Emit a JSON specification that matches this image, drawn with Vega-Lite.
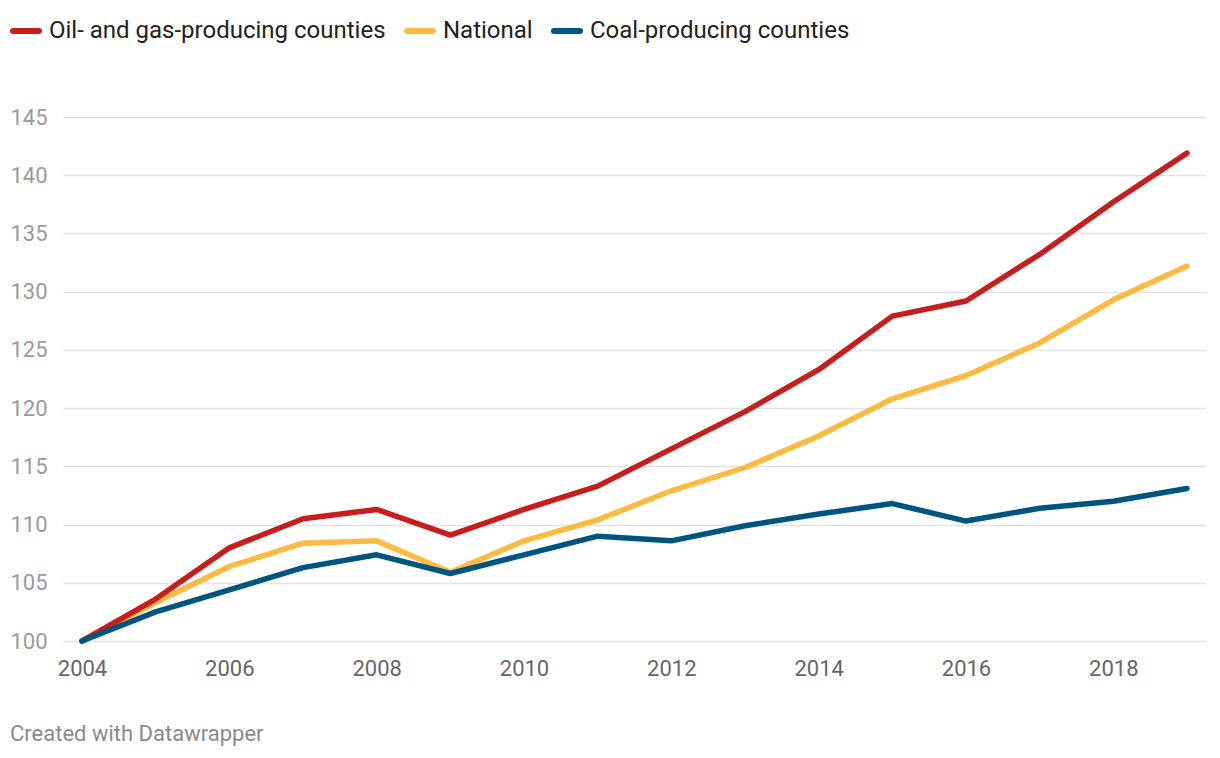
{
  "$schema": "https://vega.github.io/schema/vega-lite/v6.json",
  "width": 1143,
  "height": 524,
  "autosize": {"type": "none"},
  "padding": {"left": 63, "top": 117, "right": 14, "bottom": 117},
  "background": "white",
  "config": {
    "view": {"stroke": null},
    "font": "Roboto"
  },
  "title": {
    "text": "Created with Datawrapper",
    "orient": "bottom",
    "anchor": "start",
    "frame": "bounds",
    "fontSize": 22,
    "font": "Roboto",
    "fontWeight": "normal",
    "color": "#8a8a8a",
    "offset": 45
  },
  "datasets": {
    "series": [
      {"year": 2004, "series": "National", "value": 100},
      {"year": 2005, "series": "National", "value": 103.3},
      {"year": 2006, "series": "National", "value": 106.4},
      {"year": 2007, "series": "National", "value": 108.4},
      {"year": 2008, "series": "National", "value": 108.6},
      {"year": 2009, "series": "National", "value": 105.9},
      {"year": 2010, "series": "National", "value": 108.6},
      {"year": 2011, "series": "National", "value": 110.4},
      {"year": 2012, "series": "National", "value": 112.9},
      {"year": 2013, "series": "National", "value": 114.9},
      {"year": 2014, "series": "National", "value": 117.6},
      {"year": 2015, "series": "National", "value": 120.8},
      {"year": 2016, "series": "National", "value": 122.8},
      {"year": 2017, "series": "National", "value": 125.6},
      {"year": 2018, "series": "National", "value": 129.3},
      {"year": 2019, "series": "National", "value": 132.2},
      {"year": 2004, "series": "Oil- and gas-producing counties", "value": 100},
      {"year": 2005, "series": "Oil- and gas-producing counties", "value": 103.6},
      {"year": 2006, "series": "Oil- and gas-producing counties", "value": 108.0},
      {"year": 2007, "series": "Oil- and gas-producing counties", "value": 110.5},
      {"year": 2008, "series": "Oil- and gas-producing counties", "value": 111.3},
      {"year": 2009, "series": "Oil- and gas-producing counties", "value": 109.1},
      {"year": 2010, "series": "Oil- and gas-producing counties", "value": 111.3},
      {"year": 2011, "series": "Oil- and gas-producing counties", "value": 113.3},
      {"year": 2012, "series": "Oil- and gas-producing counties", "value": 116.5},
      {"year": 2013, "series": "Oil- and gas-producing counties", "value": 119.7},
      {"year": 2014, "series": "Oil- and gas-producing counties", "value": 123.3},
      {"year": 2015, "series": "Oil- and gas-producing counties", "value": 127.9},
      {"year": 2016, "series": "Oil- and gas-producing counties", "value": 129.2},
      {"year": 2017, "series": "Oil- and gas-producing counties", "value": 133.2},
      {"year": 2018, "series": "Oil- and gas-producing counties", "value": 137.7},
      {"year": 2019, "series": "Oil- and gas-producing counties", "value": 141.9},
      {"year": 2004, "series": "Coal-producing counties", "value": 100},
      {"year": 2005, "series": "Coal-producing counties", "value": 102.5},
      {"year": 2006, "series": "Coal-producing counties", "value": 104.4},
      {"year": 2007, "series": "Coal-producing counties", "value": 106.3},
      {"year": 2008, "series": "Coal-producing counties", "value": 107.4},
      {"year": 2009, "series": "Coal-producing counties", "value": 105.8},
      {"year": 2010, "series": "Coal-producing counties", "value": 107.4},
      {"year": 2011, "series": "Coal-producing counties", "value": 109.0},
      {"year": 2012, "series": "Coal-producing counties", "value": 108.6},
      {"year": 2013, "series": "Coal-producing counties", "value": 109.9},
      {"year": 2014, "series": "Coal-producing counties", "value": 110.9},
      {"year": 2015, "series": "Coal-producing counties", "value": 111.8},
      {"year": 2016, "series": "Coal-producing counties", "value": 110.3},
      {"year": 2017, "series": "Coal-producing counties", "value": 111.4},
      {"year": 2018, "series": "Coal-producing counties", "value": 112.0},
      {"year": 2019, "series": "Coal-producing counties", "value": 113.1}
    ]
  },
  "data": {"name": "series"},
  "mark": {"type": "line", "strokeWidth": 5.5, "strokeCap": "round", "strokeJoin": "round"},
  "encoding": {
    "x": {
      "field": "year",
      "type": "quantitative",
      "scale": {"domain": [2003.742, 2019.258], "nice": false, "zero": false},
      "axis": {
        "values": [2004, 2006, 2008, 2010, 2012, 2014, 2016, 2018],
        "format": "d",
        "title": null,
        "grid": false,
        "domain": false,
        "ticks": false,
        "labelFontSize": 22,
        "labelFont": "Roboto",
        "labelColor": "#666666",
        "labelPadding": 17,
        "labelFlush": false
      }
    },
    "y": {
      "field": "value",
      "type": "quantitative",
      "scale": {"domain": [100, 145], "nice": false, "zero": false},
      "axis": {
        "values": [100, 105, 110, 115, 120, 125, 130, 135, 140, 145],
        "title": null,
        "grid": true,
        "gridColor": "#e3e3e3",
        "gridWidth": 1.5,
        "domain": false,
        "ticks": false,
        "labelFontSize": 22,
        "labelFont": "Roboto",
        "labelColor": "#9a9a9a",
        "labelAlign": "left",
        "labelBaseline": "middle",
        "labelPadding": 53
      }
    },
    "color": {
      "field": "series",
      "type": "nominal",
      "scale": {
        "domain": ["Oil- and gas-producing counties", "National", "Coal-producing counties"],
        "range": ["#c71e1d", "#fdba40", "#005580"]
      },
      "legend": {
        "title": null,
        "orient": "none",
        "legendX": -53,
        "legendY": -102,
        "direction": "horizontal",
        "symbolType": "stroke",
        "symbolSize": 676,
        "symbolStrokeWidth": 6,
        "labelFontSize": 24,
        "labelFont": "Roboto",
        "labelColor": "#222222",
        "labelOffset": 7,
        "columnPadding": 9,
        "padding": 0,
        "labelLimit": 500,
        "encode": {"symbols": {"update": {"strokeCap": {"value": "round"}}}}
      }
    }
  }
}
